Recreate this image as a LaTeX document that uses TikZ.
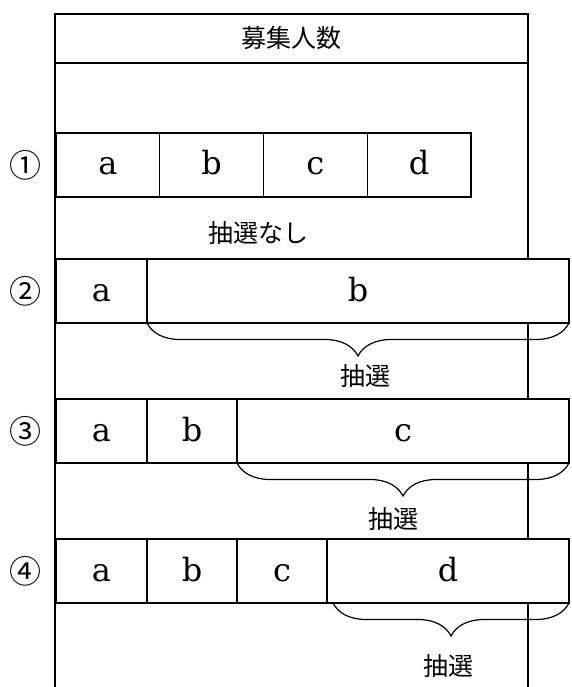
\documentclass[tikz,border=0pt]{standalone}
\usepackage{fontspec}
\setmainfont{DejaVu Serif}
\newfontfamily\jpfont{Noto Sans CJK JP}
\usetikzlibrary{calc, positioning, decorations.pathreplacing}
\newcommand\cellfont{\fontsize{32}{38}\selectfont}
\newcommand\jpsize{\jpfont\fontsize{25}{30}\selectfont}
\tikzset{
	cellbox/.style={draw, line width=1.2pt, fill=white, minimum height=64pt, inner sep=0pt, outer sep=0pt, text height=22pt, text depth=2pt, font=\cellfont},
	framebar/.style={line width=2pt},
	lotbrace/.style={decorate, decoration={brace, mirror, amplitude=33pt}, line width=1.2pt},
	jplabel/.style={font=\jpsize, inner sep=0pt},
	casenum/.style={font=\jpfont\fontsize{32}{36}\selectfont, inner sep=0pt}
}

\begin{document}
\begin{tikzpicture}[x=1pt, y=-1pt]
\useasboundingbox (0,0) rectangle (571,687);
% frame of the total
\coordinate (ftl) at (55,14);
\coordinate (ftr) at (528,14);
\coordinate (fbl) at (55,687);
\coordinate (fbr) at (528,687);
\coordinate (hl) at (55,62.7);
\coordinate (hr) at (528,62.7);
\draw[framebar] (fbl) -- (ftl) -- (ftr) -- (fbr);
\draw[framebar] (hl) -- (hr);
\node[jplabel] (head) at (291.5,38.5) {募集人数};

% case 1
\node[cellbox, minimum width=103.75pt, anchor=north west] (r1a) at (56,133) {a};
\node[cellbox, minimum width=103.75pt, right=0pt of r1a] (r1b) {b};
\node[cellbox, minimum width=103.75pt, right=0pt of r1b] (r1c) {c};
\node[cellbox, minimum width=103.75pt, right=0pt of r1c] (r1d) {d};
\node[casenum, left=14pt of r1a] (n1) {①};
\node[jplabel] (none1) at (258,233) {抽選なし};

% case 2
\node[cellbox, minimum width=91pt, anchor=north west] (r2a) at (56,259) {a};
\node[cellbox, minimum width=422pt, right=0pt of r2a] (r2b) {b};
\node[casenum, left=14pt of r2a] (n2) {②};
\draw[lotbrace] (r2b.south west) -- (r2b.south east);
\node[jplabel] (lot2) at ($(r2b.south)+(7,53)$) {抽選};

% case 3
\node[cellbox, minimum width=91pt, anchor=north west] (r3a) at (56,399) {a};
\node[cellbox, minimum width=90pt, right=0pt of r3a] (r3b) {b};
\node[cellbox, minimum width=332pt, right=0pt of r3b] (r3c) {c};
\node[casenum, left=14pt of r3a] (n3) {③};
\draw[lotbrace] (r3c.south west) -- (r3c.south east);
\node[jplabel] (lot3) at ($(r3c.south)+(-10,56)$) {抽選};

% case 4
\node[cellbox, minimum width=91pt, anchor=north west] (r4a) at (56,539) {a};
\node[cellbox, minimum width=90pt, right=0pt of r4a] (r4b) {b};
\node[cellbox, minimum width=90pt, right=0pt of r4b] (r4c) {c};
\node[cellbox, minimum width=242pt, right=0pt of r4c] (r4d) {d};
\node[casenum, left=14pt of r4a] (n4) {④};
\draw[lotbrace] ([xshift=6pt]r4d.south west) -- (r4d.south east);
\node[jplabel] (lot4) at ($(r4d.south)+(0,63)$) {抽選};
\end{tikzpicture}
\end{document}
